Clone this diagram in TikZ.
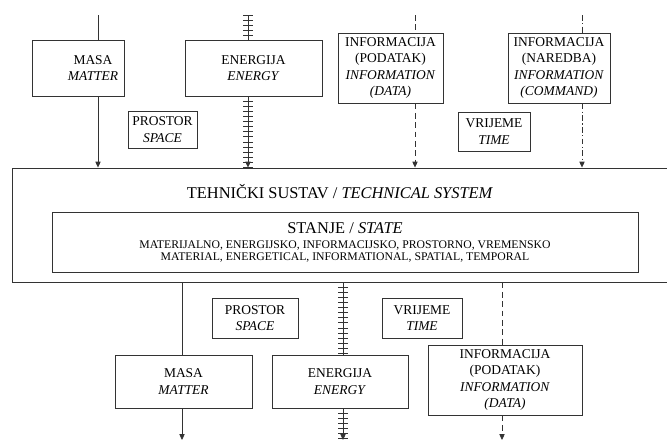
\documentclass[tikz,border=0pt]{standalone}
\usepackage{fontspec}
\setmainfont{Liberation Serif}
\usetikzlibrary{arrows.meta,decorations.pathreplacing}

\tikzset{
  caja/.style={draw=black!80, line width=0.8pt, align=center, inner sep=0pt,
    font=\fontsize{11.5}{14}\selectfont},
  tekst/.style={align=center, inner sep=0pt, font=\fontsize{11.5}{14}\selectfont},
  tam/.style 2 args={minimum width=#1*0.03cm, minimum height=#2*0.03cm},
  flujo/.style={draw=black!80, line width=0.6pt},
  punta/.style={-{Triangle[width=4.5pt,length=5pt]}},
  energia/.style={flujo, postaction={draw=black!80, line width=0.5pt, arrows=-,
    decorate, decoration={ticks, segment length=4.3pt, amplitude=4pt}}},
  datos/.style={flujo, dash pattern=on 5pt off 3pt},
  orden/.style={flujo, dash pattern=on 5pt off 2pt on 1pt off 2pt},
}

\begin{document}
\begin{tikzpicture}[x=0.03cm, y=-0.03cm] %Tehnicki sustav
            \useasboundingbox (0,0) rectangle (667,441);

            \coordinate (mA) at (98,15);
            \coordinate (eA) at (248,15);
            \coordinate (pA) at (415,15);
            \coordinate (nA) at (582,15);
            \coordinate (mB) at (182,440);
            \coordinate (eB) at (343,440);
            \coordinate (pB) at (502,440);

            % ulazi
            \node[caja, tam={92}{56}] (masaA) at (78,68) {};
            \node[tekst] (masaAt) at (93,68) {MASA\\\textit{MATTER}};
            \node[caja, tam={137}{56}] (energijaA) at (253.5,68) {ENERGIJA\\\textit{ENERGY}};
            \node[caja, tam={69}{37}] (prostorA) at (162.5,129.5) {PROSTOR\\\textit{SPACE}};
            \node[caja, tam={105}{70}] (podatakA) at (390.5,68) {INFORMACIJA\\(PODATAK)\\\textit{INFORMATION}\\\textit{(DATA)}};
            \node[caja, tam={102}{70}] (naredbaA) at (559,68) {INFORMACIJA\\(NAREDBA)\\\textit{INFORMATION}\\\textit{(COMMAND)}};
            \node[caja, tam={72}{39}] (vrijemeA) at (494,131.5) {VRIJEME\\\textit{TIME}};

            % sustav
            \node[caja, tam={678}{114}] (sustav) at (351,225) {};
            \node[font=\fontsize{14}{16}\selectfont] (naslov) at (340,192) {TEHNIČKI SUSTAV / \textit{TECHNICAL SYSTEM}};
            \node[caja, tam={586}{60}] (stanje) at (345,242) {};
            \node[font=\fontsize{14}{16}\selectfont] (stanjeN) at (345,228) {STANJE / \textit{STATE}};
            \node[align=center, inner sep=0pt, font=\fontsize{10}{11}\selectfont] (stanjeV) at (345,251.5)
                {MATERIJALNO, ENERGIJSKO, INFORMACIJSKO, PROSTORNO, VREMENSKO\\
                 MATERIAL, ENERGETICAL, INFORMATIONAL, SPATIAL, TEMPORAL};

            % izlazi
            \node[caja, tam={86}{40}] (prostorB) at (255,318) {PROSTOR\\\textit{SPACE}};
            \node[caja, tam={80}{40}] (vrijemeB) at (422,318) {VRIJEME\\\textit{TIME}};
            \node[caja, tam={137}{53}] (masaB) at (183.5,381.5) {MASA\\\textit{MATTER}};
            \node[caja, tam={136}{53}] (energijaB) at (340,381.5) {ENERGIJA\\\textit{ENERGY}};
            \node[caja, tam={154}{70}] (podatakB) at (505,380) {INFORMACIJA\\(PODATAK)\\\textit{INFORMATION}\\\textit{(DATA)}};

            \draw[flujo] (mA) -- (mA |- masaA.north);
            \draw[flujo, punta] (mA |- masaA.south) -- (mA |- sustav.north);
            \draw[energia] (eA) -- (eA |- energijaA.north);
            \draw[energia, punta] (eA |- energijaA.south) -- (eA |- sustav.north);
            \draw[datos] (pA) -- (pA |- podatakA.north);
            \draw[datos, punta] (pA |- podatakA.south) -- (pA |- sustav.north);
            \draw[orden] (nA) -- (nA |- naredbaA.north);
            \draw[orden, punta] (nA |- naredbaA.south) -- (nA |- sustav.north);

            \draw[flujo] (mB |- sustav.south) -- (mB |- masaB.north);
            \draw[flujo, punta] (mB |- masaB.south) -- (mB);
            \draw[energia] (eB |- sustav.south) -- (eB |- energijaB.north);
            \draw[energia, punta] (eB |- energijaB.south) -- (eB);
            \draw[datos] (pB |- sustav.south) -- (pB |- podatakB.north);
            \draw[datos, punta] (pB |- podatakB.south) -- (pB);
        \end{tikzpicture}
\end{document}
